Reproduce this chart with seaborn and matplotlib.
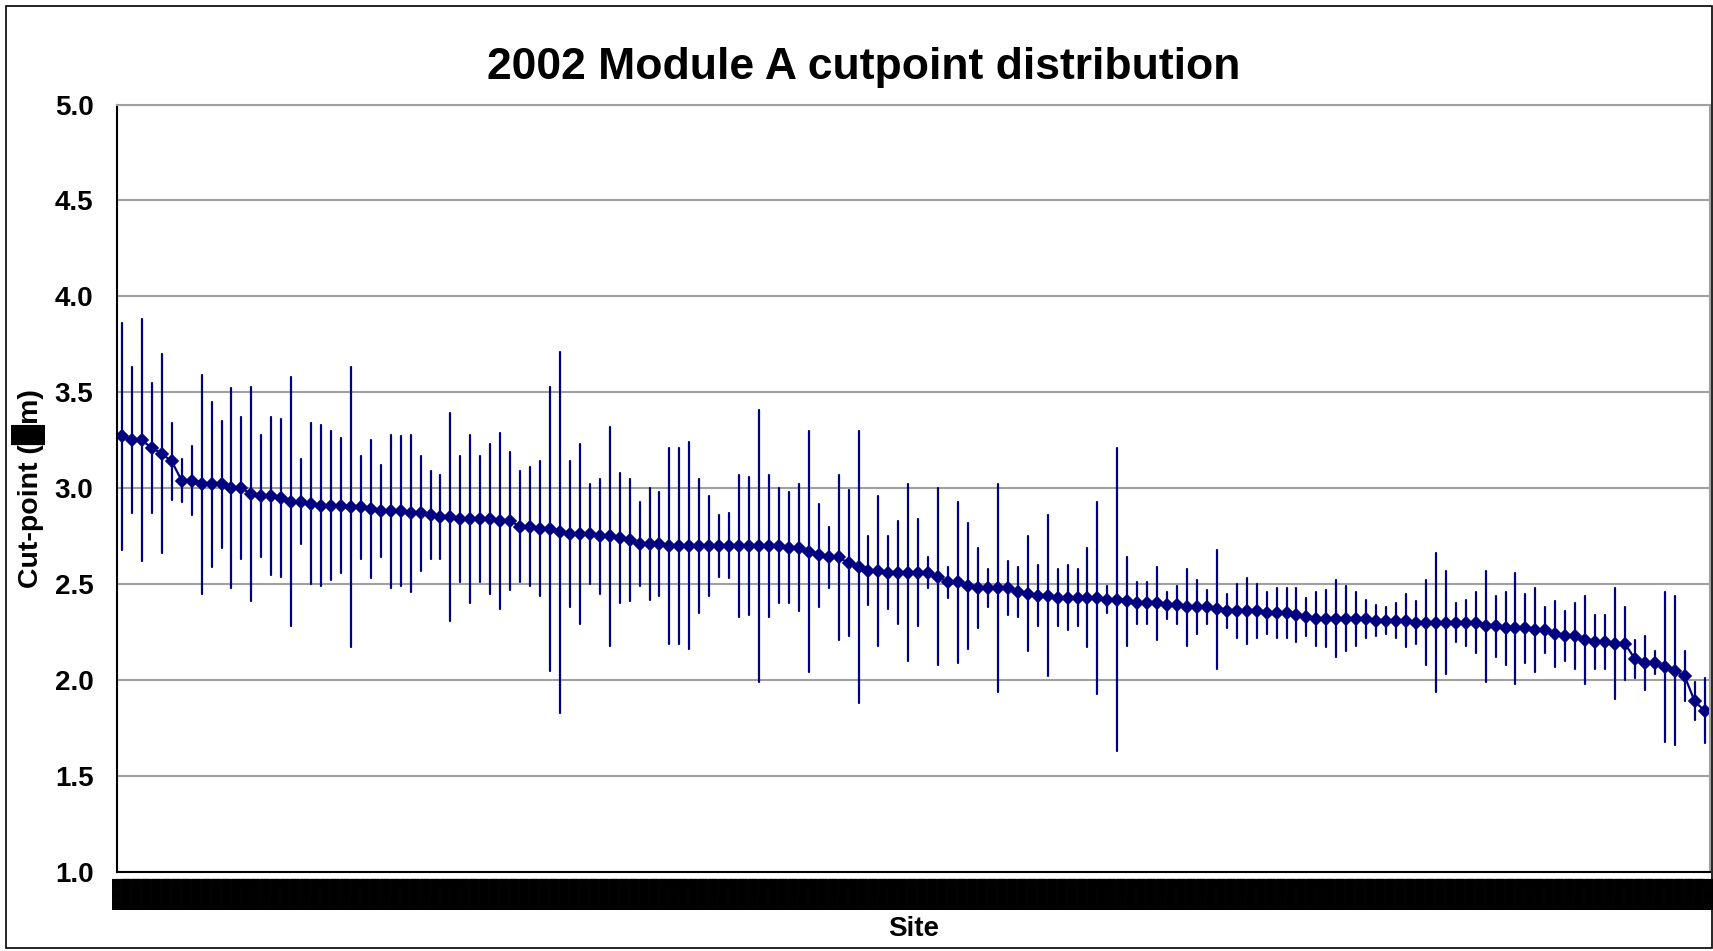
import numpy as np
import pandas as pd
import matplotlib
matplotlib.use("Agg")
import matplotlib.pyplot as plt
import seaborn as sns

# --- data: mean cut-point and half-width of each bar, per site ---
cut_mean = [
    3.27, 3.25, 3.25, 3.21, 3.18, 3.14, 3.04, 3.04, 3.02, 3.02,
    3.02, 3.00, 3.00, 2.97, 2.96, 2.96, 2.95, 2.93, 2.93, 2.92,
    2.91, 2.91, 2.91, 2.90, 2.90, 2.89, 2.88, 2.88, 2.88, 2.87,
    2.87, 2.86, 2.85, 2.85, 2.84, 2.84, 2.84, 2.84, 2.83, 2.83,
    2.80, 2.80, 2.79, 2.79, 2.77, 2.76, 2.76, 2.76, 2.75, 2.75,
    2.74, 2.73, 2.71, 2.71, 2.71, 2.70, 2.70, 2.70, 2.70, 2.70,
    2.70, 2.70, 2.70, 2.70, 2.70, 2.70, 2.70, 2.69, 2.69, 2.67,
    2.65, 2.64, 2.64, 2.61, 2.59, 2.57, 2.57, 2.56, 2.56, 2.56,
    2.56, 2.56, 2.54, 2.51, 2.51, 2.49, 2.48, 2.48, 2.48, 2.48,
    2.46, 2.45, 2.44, 2.44, 2.43, 2.43, 2.43, 2.43, 2.43, 2.42,
    2.42, 2.41, 2.40, 2.40, 2.40, 2.39, 2.39, 2.38, 2.38, 2.38,
    2.37, 2.36, 2.36, 2.36, 2.36, 2.35, 2.35, 2.35, 2.34, 2.33,
    2.32, 2.32, 2.32, 2.32, 2.32, 2.32, 2.31, 2.31, 2.31, 2.31,
    2.30, 2.30, 2.30, 2.30, 2.30, 2.30, 2.30, 2.28, 2.28, 2.27,
    2.27, 2.27, 2.26, 2.26, 2.24, 2.23, 2.23, 2.21, 2.20, 2.20,
    2.19, 2.19, 2.11, 2.09, 2.09, 2.07, 2.05, 2.02, 1.89, 1.84,
]
cut_err = [
    0.59, 0.38, 0.63, 0.34, 0.52, 0.20, 0.11, 0.18, 0.57, 0.43,
    0.33, 0.52, 0.37, 0.56, 0.32, 0.41, 0.41, 0.65, 0.22, 0.42,
    0.42, 0.39, 0.35, 0.73, 0.27, 0.36, 0.24, 0.40, 0.39, 0.41,
    0.30, 0.23, 0.22, 0.54, 0.33, 0.44, 0.33, 0.39, 0.46, 0.36,
    0.29, 0.31, 0.35, 0.74, 0.94, 0.38, 0.47, 0.26, 0.30, 0.57,
    0.34, 0.32, 0.22, 0.29, 0.27, 0.51, 0.51, 0.54, 0.35, 0.26,
    0.16, 0.17, 0.37, 0.36, 0.71, 0.37, 0.30, 0.29, 0.33, 0.63,
    0.27, 0.16, 0.43, 0.38, 0.71, 0.18, 0.39, 0.19, 0.27, 0.46,
    0.28, 0.08, 0.46, 0.08, 0.42, 0.33, 0.21, 0.10, 0.54, 0.14,
    0.13, 0.30, 0.16, 0.42, 0.15, 0.17, 0.15, 0.26, 0.50, 0.07,
    0.79, 0.23, 0.11, 0.11, 0.19, 0.07, 0.10, 0.20, 0.14, 0.09,
    0.31, 0.09, 0.14, 0.17, 0.14, 0.11, 0.13, 0.13, 0.14, 0.10,
    0.14, 0.15, 0.20, 0.17, 0.14, 0.10, 0.08, 0.07, 0.09, 0.14,
    0.11, 0.22, 0.36, 0.27, 0.10, 0.12, 0.16, 0.29, 0.16, 0.19,
    0.29, 0.18, 0.22, 0.12, 0.17, 0.13, 0.17, 0.23, 0.14, 0.14,
    0.29, 0.19, 0.10, 0.14, 0.06, 0.39, 0.39, 0.13, 0.10, 0.17,
]
site_ids = list(range(1, len(cut_mean) + 1))
# the site names show up only as solid glyph boxes in the original
site_labels = ["\u2588\u2588\u2588"] * len(cut_mean)
y_ticks = [1.0, 1.5, 2.0, 2.5, 3.0, 3.5, 4.0, 4.5, 5.0]

# long form: low and high end of each bar, the mean sits in the middle
rows = []
for s, m, e in zip(site_ids, cut_mean, cut_err):
    rows.append({"site": s, "cut": m - e})
    rows.append({"site": s, "cut": m + e})
df = pd.DataFrame(rows)

sns.set_style("white")
plt.rcParams["font.family"] = ["Liberation Sans", "DejaVu Sans"]
plt.rcParams["font.weight"] = "bold"
plt.rcParams["text.color"] = "black"
plt.rcParams["axes.labelcolor"] = "black"
plt.rcParams["xtick.color"] = "black"
plt.rcParams["ytick.color"] = "black"

fig = plt.figure(figsize=(17.13, 9.51), dpi=100)
ax = fig.add_axes([0.0683, 0.0831, 0.9297, 0.8070])

ax.yaxis.grid(True, color="#a0a0a0", linewidth=1.5)
ax.set_axisbelow(True)

navy = "#000080"
sns.pointplot(data=df, x="site", y="cut", estimator="mean",
              errorbar=("pi", 100), color=navy, markers="D",
              markersize=6, linewidth=1.6, err_kws={"linewidth": 1.6},
              ax=ax)

ax.set_ylim(1.0, 5.0)
ax.set_yticks(y_ticks)
ax.set_yticklabels([f"{t:.1f}" for t in y_ticks], fontsize=20, fontweight="bold")
ax.tick_params(axis="y", length=8, width=1.2, color="black", pad=9, direction="out")

n = len(site_ids)
ax.set_xlim(-0.5, n - 0.5)
ax.set_xticks(range(n))
ax.set_xticklabels(site_labels, rotation=90, fontsize=10.5, color="black")
ax.set_xticks(np.arange(n + 1) - 0.5, minor=True)
ax.tick_params(axis="x", which="major", length=0, pad=4)
ax.tick_params(axis="x", which="minor", length=4, width=1, color="black", direction="out")

for side in ["left", "bottom"]:
    ax.spines[side].set_color("black")
    ax.spines[side].set_linewidth(1.5)
for side in ["top", "right"]:
    ax.spines[side].set_color("#a0a0a0")
    ax.spines[side].set_linewidth(1.5)

ax.set_xlabel("Site", fontsize=20, fontweight="bold")
ax.xaxis.set_label_coords(0.5, -0.074)
ax.xaxis.label.set_va("center")
ax.set_ylabel("Cut-point (\u2588m)", fontsize=20.5, fontweight="bold")
ax.yaxis.set_label_coords(-0.0555, 0.5)
ax.yaxis.label.set_va("center")

fig.text(0.504, 0.929, "2002 Module A cutpoint distribution",
         ha="center", va="center", fontsize=32, fontweight="bold")

# thin frame round the whole chart
fig.patches.append(plt.Rectangle((6 / 1713, 3 / 951), 1 - 7 / 1713, 1 - 9 / 951,
                                 transform=fig.transFigure, fill=False,
                                 edgecolor="black", linewidth=1.2))

fig.savefig("out.png", dpi=100)
